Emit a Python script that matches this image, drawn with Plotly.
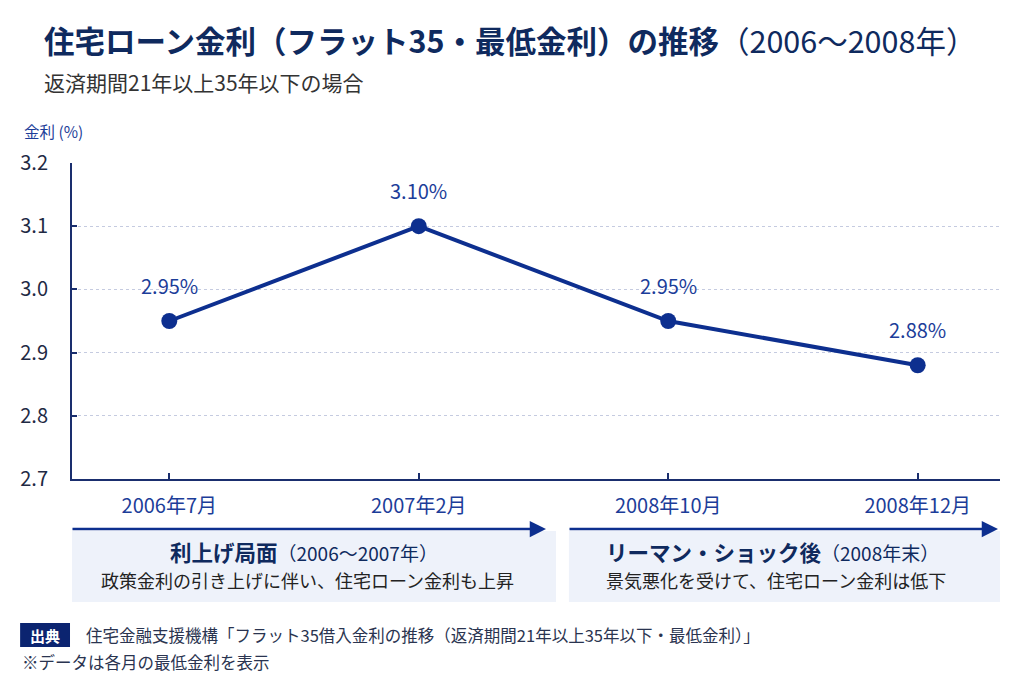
import plotly.graph_objects as go

# data
months = ["2006年7月", "2007年2月", "2008年10月", "2008年12月"]
rates = [2.95, 3.10, 2.95, 2.88]

title_main = "住宅ローン金利（フラット35・最低金利）の推移"
title_years = "（2006〜2008年）"
subtitle = "返済期間21年以上35年以下の場合"
y_title = "金利 (%)"
phase_heads = ["利上げ局面", "リーマン・ショック後"]
phase_periods = ["（2006〜2007年）", "（2008年末）"]
phase_notes = ["政策金利の引き上げに伴い、住宅ローン金利も上昇",
               "景気悪化を受けて、住宅ローン金利は低下"]
source_tag = "出典"
source_text = "住宅金融支援機構「フラット35借入金利の推移（返済期間21年以上35年以下・最低金利）」"
footnote = "※データは各月の最低金利を表示"

FONT = "Noto Sans CJK JP"
NAVY = "#0f2a5e"
LINE = "#0d2f8f"
LABEL = "#1c3d99"
AXIS = "#1a2e6e"
BOX = "#eef2fa"

# page body has an 8px margin, so the figure is drawn 8px smaller and shifted
OFF = 8
W, H = 1024 - OFF, 683 - OFF
# plot area in reference pixels (left, right, top, bottom)
L, R, T, B = 70, 1000, 163, 479


def px(x):
    return (x - L) / (R - L)


def py(y):
    return (B - y) / (B - T)


fig = go.Figure()
fig.add_trace(go.Scatter(
    x=months, y=rates, mode="lines+markers",
    line=dict(color=LINE, width=4),
    marker=dict(color=LINE, size=16),
    hoverinfo="skip", showlegend=False,
))

annotations = []


def note(x, y, text, size, color, anchor="center", **kw):
    annotations.append(dict(x=px(x), y=py(y), xref="paper", yref="paper",
                            xanchor=anchor, yanchor="middle", text=text, showarrow=False,
                            font=dict(family=FONT, size=size, color=color), **kw))


# value labels
for m, v in zip(months, rates):
    annotations.append(dict(x=m, y=v, xref="x", yref="y", text=f"{v:.2f}%",
                            showarrow=False, yshift=36,
                            font=dict(family=FONT, size=20, color=LABEL)))

# title, subtitle, axis title
note(40, 40, f"<b>{title_main}</b>{title_years}", 30.5, NAVY, "left")
note(40, 82, subtitle, 21, "#333333", "left")
note(20, 131, y_title, 15.5, LABEL, "left")

shapes = []
# phase boxes, arrows and texts
boxes = [(70, 555), (568, 1000)]
arrow_ends = [(70, 545), (568, 998)]
centers = [302, 772]
for i in range(2):
    x0, x1 = boxes[i]
    shapes.append(dict(type="rect", xref="paper", yref="paper", x0=px(x0), x1=px(x1),
                       y0=py(531), y1=py(602), fillcolor=BOX, line=dict(width=0), layer="below"))
    a0, a1 = arrow_ends[i]
    annotations.append(dict(x=px(a1), y=py(529), xref="paper", yref="paper", ax=-(a1 - a0), ay=0,
                            text="", showarrow=True, arrowhead=2, arrowsize=1.3, arrowwidth=2.5,
                            arrowcolor=LINE))
    note(centers[i], 551,
         f"<b>{phase_heads[i]}</b><span style='font-size:19px'>{phase_periods[i]}</span>",
         21.5, NAVY)
    note(centers[i] + 4, 580, phase_notes[i], 18, "#222222")

# source
shapes.append(dict(type="rect", xref="paper", yref="paper", x0=px(18), x1=px(68),
                   y0=py(623), y1=py(647), fillcolor="#0b2470", line=dict(width=0)))
note(43, 635, f"<b>{source_tag}</b>", 15, "white")
note(82, 635, source_text, 16.5, "#2a3450", "left")
note(18, 662, footnote, 16.5, "#2a3450", "left")

fig.update_layout(
    width=W, height=H,
    margin=dict(l=L - OFF, r=W - (R - OFF), t=T - OFF, b=H - (B - OFF)),
    paper_bgcolor="white", plot_bgcolor="white",
    font=dict(family=FONT),
    annotations=annotations, shapes=shapes,
    xaxis=dict(type="category", range=[-0.39, 3.33], showgrid=False,
               showline=True, linecolor=AXIS, linewidth=2,
               ticks="inside", ticklen=6, tickwidth=1.5, tickcolor=AXIS,
               ticklabelstandoff=8,
               tickfont=dict(family=FONT, size=20, color=LABEL), fixedrange=True),
    yaxis=dict(range=[2.7, 3.2], dtick=0.1, tickformat=".1f",
               showgrid=True, gridcolor="#c5cbe0", griddash="dot", gridwidth=1,
               showline=True, linecolor=AXIS, linewidth=2, zeroline=False,
               ticks="inside", ticklen=5, tickwidth=1.5, tickcolor=AXIS,
               ticklabelstandoff=18,
               tickfont=dict(family=FONT, size=20, color="#1f2a44"), fixedrange=True),
)

fig.write_html("out.html")
